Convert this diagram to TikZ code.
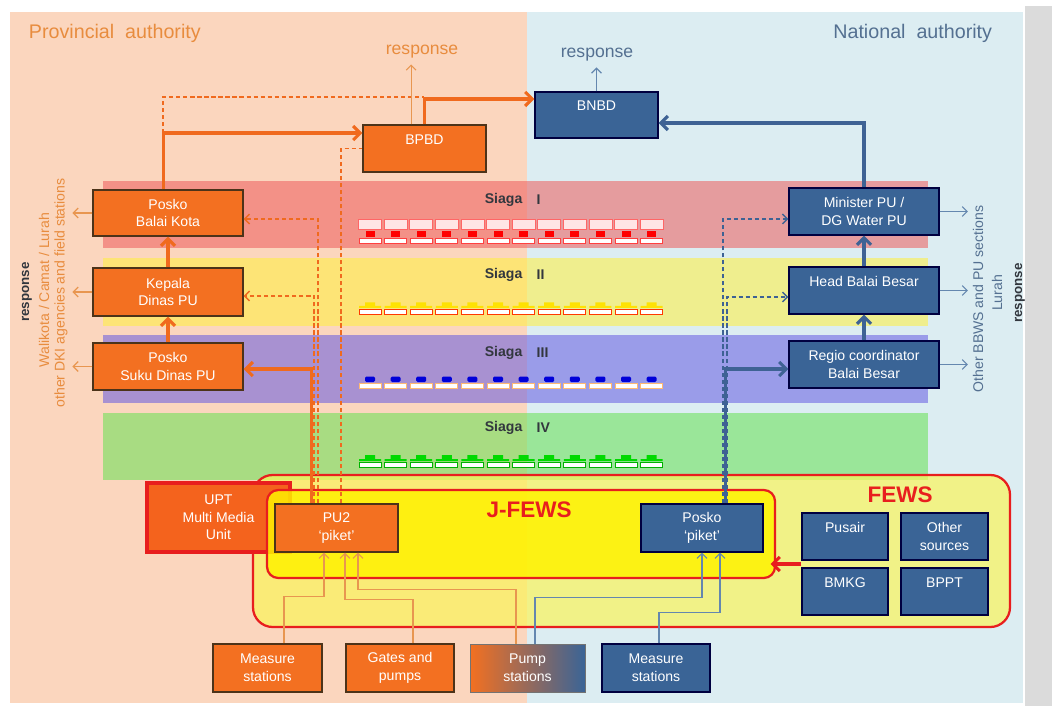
\documentclass[tikz,border=0pt]{standalone}
\usepackage{fontspec}
\setmainfont{Liberation Sans}
\usetikzlibrary{positioning,arrows,arrows.meta,shadows,calc}

\definecolor{peach}{RGB}{251,214,190}
\definecolor{skyb}{RGB}{220,237,242}
\definecolor{oran}{RGB}{243,112,33}
\definecolor{oranline}{RGB}{240,106,30}
\definecolor{oranthin}{RGB}{232,150,80}
\definecolor{orantxt}{RGB}{232,140,62}
\definecolor{blu}{RGB}{58,100,150}
\definecolor{bluline}{RGB}{62,98,148}
\definecolor{bluthin}{RGB}{100,135,175}
\definecolor{blutxt}{RGB}{84,112,145}
\definecolor{fred}{RGB}{232,30,30}
\definecolor{band1}{RGB}{238,90,90}
\definecolor{band2}{RGB}{255,240,60}
\definecolor{band3}{RGB}{100,90,226}
\definecolor{band4}{RGB}{100,225,81}
\definecolor{siagatxt}{RGB}{50,55,62}

\begin{document}
\begin{tikzpicture}[x=0.025cm,y=-0.025cm,
  box/.style 2 args={rectangle, minimum width=#1*0.025cm, minimum height=#2*0.025cm,
    text=white, align=center, inner sep=1pt, font=\fontsize{10}{12.5}\selectfont,
    drop shadow={shadow xshift=1pt,shadow yshift=-1pt,opacity=.35}},
  obox/.style={fill=oran, draw=black!60!brown, line width=0.9pt},
  bbox/.style={fill=blu, draw=blue!25!black, line width=0.9pt},
  uptext/.style={text depth=13pt},
  siaga/.style={font=\bfseries\fontsize{10}{12}\selectfont, text=siagatxt, inner sep=1pt},
  side/.style={rotate=90, font=\fontsize{10}{12}\selectfont, inner sep=3.3pt},
  othick/.style={draw=oranline, line width=2.2pt, >={Straight Barb[length=5pt,width=10pt]}},
  odash/.style={draw=oranline, line width=1pt, dash pattern=on 3pt off 2pt, >={Straight Barb[length=3.5pt,width=7pt]}},
  othin/.style={draw=oranthin, line width=0.8pt, >={Straight Barb[length=3.5pt,width=7pt]}},
  bthick/.style={draw=bluline, line width=2.2pt, >={Straight Barb[length=5pt,width=10pt]}},
  bdash/.style={draw=bluline, line width=1pt, dash pattern=on 3pt off 2pt, >={Straight Barb[length=3.5pt,width=7pt]}},
  bthin/.style={draw=bluthin, line width=0.8pt, >={Straight Barb[length=3.5pt,width=7pt]}},
]
\useasboundingbox (0,0) rectangle (1052,708);

% the two authorities
\fill[white] (0,0) rectangle (1052,708);
\fill[black!14] (1025,6) rectangle (1052,706);
\fill[peach] (10,12) rectangle (527,703);
\fill[skyb] (527,12) rectangle (1023,703);
\node[anchor=west, text=orantxt, font=\fontsize{14}{16}\selectfont] at (24,33) (provtitle) {Provincial\ \ authority};
\node[anchor=east, text=blutxt, font=\fontsize{14}{16}\selectfont] at (997,33) (nattitle) {National\ \ authority};

% alert levels
\foreach \c/\ya/\yb in {band1/181/248, band2/258/326, band3/335/403, band4/413/480}
  \fill[\c, opacity=.55] (103,\ya) rectangle (928,\yb);
\foreach \n/\y in {I/200, II/275, III/353, IV/428}{
  \node[siaga, anchor=east] at (524,\y) (siaga\n) {Siaga};
  \node[siaga, anchor=west] at (535,\y) (level\n) {\n};
}
\foreach \i in {0,...,11}{
  \pgfmathsetmacro{\xx}{370+25.6*\i}
  % gauges
  \draw[red!60, fill=red!10, line width=.3pt] (\xx-11.5,219) rectangle (\xx+11.5,229);
  \fill[red] (\xx-4.5,231.5) rectangle (\xx+4.5,237);
  \draw[red!75, fill=white, line width=.5pt] (\xx-11,238) rectangle (\xx+11,243.5);
  \fill[yellow!85!orange] (\xx-5,302.5) rectangle (\xx+5,307) (\xx-11,306) rectangle (\xx+11,308);
  \draw[red!55!orange, fill=white, line width=.5pt] (\xx-11,309) rectangle (\xx+11,314.5);
  \fill[blue!85!black, rounded corners=1pt] (\xx-5,376.5) rectangle (\xx+5,382);
  \draw[orange!55, fill=white, line width=.5pt] (\xx-11,383) rectangle (\xx+11,388);
  \fill[green!85!black] (\xx-5,455) rectangle (\xx+5,460) (\xx-11,459) rectangle (\xx+11,461);
  \draw[green!70!black, fill=white, line width=.5pt] (\xx-11,462) rectangle (\xx+11,467);
}

% warning systems
\node[draw=fred, line width=1.6pt, fill={rgb,255:red,250;green,245;blue,90}, fill opacity=.7,
  rounded corners=14pt, minimum width=757*0.025cm, minimum height=152*0.025cm] at (631.5,551) (fews) {};
\node[text=fred, font=\bfseries\fontsize{16}{18}\selectfont] at (900,495) (fewslabel) {FEWS};
\node[box={143}{69}, fill=oran!88!red, draw=fred, line width=2.5pt] at (218.5,517.5) (upt) {UPT\\Multi Media\\Unit};
\node[draw=fred, line width=1.6pt, fill=yellow, fill opacity=.85,
  rounded corners=8pt, minimum width=508*0.025cm, minimum height=88*0.025cm] at (521,534) (jfews) {};
\node[text=fred, font=\bfseries\fontsize{16}{18}\selectfont] at (529,510) (jfewslabel) {J-FEWS};

% provincial side
\node[box={123}{47}, obox, uptext] at (424.5,148.5) (bpbd) {BPBD};
\node[box={150}{46}, obox] at (168,213) (balaikota) {Posko\\Balai Kota};
\node[box={150}{48}, obox] at (168,292) (kepala) {Kepala\\Dinas PU};
\node[box={150}{47}, obox] at (168,366.5) (sukudinas) {Posko\\Suku Dinas PU};
\node[box={123}{48}, obox] at (336.5,528) (pu2) {PU2\\`piket'};

% national side
\node[box={123}{46}, bbox, uptext] at (596.5,115) (bnbd) {BNBD};
\node[box={150}{47}, bbox] at (864,211.5) (minister) {Minister PU /\\DG Water PU};
\node[box={150}{47}, bbox, uptext] at (864,290.5) (headbb) {Head Balai Besar};
\node[box={150}{47}, bbox] at (864,364.5) (regio) {Regio coordinator\\Balai Besar};
\node[box={122}{48}, bbox] at (702,528) (poskopiket) {Posko\\`piket'};
\node[box={86}{47}, bbox, uptext] at (845,536.5) (pusair) {Pusair};
\node[box={87}{47}, bbox] at (944.5,536.5) (othersrc) {Other\\sources};
\node[box={86}{47}, bbox, uptext] at (845,591.5) (bmkg) {BMKG};
\node[box={87}{47}, bbox, uptext] at (944.5,591.5) (bppt) {BPPT};

% field stations
\node[box={109}{48}, obox] at (267.5,668) (measure1) {Measure\\stations};
\node[box={108}{48}, obox] at (400,668) (gates) {Gates and\\pumps};
\node[box={115}{48}, left color=oran, right color=blu, draw=black!55] at (527.5,668) (pump) {Pump\\stations};
\node[box={108}{48}, bbox] at (656,668) (measure2) {Measure\\stations};

% response texts
\node[text=orantxt, font=\fontsize{12.5}{14}\selectfont, inner sep=4pt] at (422,52) (oresp) {response};
\node[text=blutxt, font=\fontsize{12.5}{14}\selectfont, inner sep=4pt] at (597,55) (bresp) {response};
\node[side, font=\bfseries\fontsize{9.5}{11}\selectfont, text=siagatxt] at (27,292) (lresp) {response};
\node[side, text=orantxt] at (44,290) (walikota) {Walikota / Camat / Lurah};
\node[side, text=orantxt] at (61,293) (dki) {other DKI agencies and field stations};
\node[side, text=blutxt] at (978,299) (bbws) {Other BBWS and PU sections};
\node[side, text=blutxt] at (997,293) (lurah) {Lurah};
\node[side, font=\bfseries\fontsize{9.5}{11}\selectfont, text=siagatxt] at (1020,293) (rresp) {response};

% provincial chain
\coordinate (bkturn) at (163,133);
\coordinate (topjoin) at (424,97);
\draw[odash] (bkturn) |- (topjoin);
\draw[othick,->] ([xshift=-3.5pt]balaikota.north) |- ([yshift=11pt]bpbd.west);
\draw[othick,->] (bpbd.north) |- ([yshift=11.4pt]bnbd.west);
\draw[othin,->] ([xshift=-9.5pt]bpbd.north) -- ([xshift=-9.5pt]bpbd.north |- oresp.south);
\draw[othick,->] (sukudinas.north) -- (kepala.south);
\draw[othick,->] (kepala.north) -- (balaikota.south);
\draw[odash] ([xshift=3.2pt]pu2.north) |- (bpbd.west);
\draw[odash,->] ([xshift=-13.2pt]pu2.north) |- ([yshift=-4.3pt]balaikota.east);
\draw[odash,->] ([xshift=-16pt]pu2.north) |- ([yshift=-2.8pt]kepala.east);
\draw[othick,->] ([xshift=-18.1pt]pu2.north) |- ([yshift=-1.8pt]sukudinas.east);
\foreach \b in {balaikota,kepala,sukudinas}
  \draw[othin,->] (\b.west) -- (\b.west -| dki.south);

% national chain
\draw[bthin,->] (bnbd.north) -- (bnbd.north |- bresp.south);
\draw[bthick,->] (minister.north) |- ([yshift=-5.7pt]bnbd.east);
\draw[bthick,->] (regio.north) -- (headbb.south);
\draw[bthick,->] (headbb.north) -- (minister.south);
\draw[bdash,->] ([xshift=14.9pt]poskopiket.north) |- ([yshift=-5.3pt]minister.west);
\draw[bdash,->] ([xshift=17.8pt]poskopiket.north) |- ([yshift=-4.6pt]headbb.west);
\draw[bthick,->] ([xshift=16.4pt]poskopiket.north) |- ([yshift=-3.2pt]regio.west);
\foreach \b in {minister,headbb,regio}
  \draw[bthin,->] (\b.east) -- (\b.east -| bbws.north);

% FEWS feeds J-FEWS
\coordinate (fewsin) at ($(pusair.south west)!.5!(bmkg.north west)$);
\draw[draw=fred, line width=2.2pt, >={Straight Barb[length=5pt,width=10pt]}, ->, shorten >=-4pt]
  (fewsin) -- (fewsin -| jfews.east);

% station inputs
\draw[othin,->] ([xshift=11.7pt]measure1.north) -- ++(0,-47) -| ([xshift=-8.9pt]pu2.south);
\draw[othin,->] ([xshift=9.2pt]gates.north) -- ++(0,-44) -| ([xshift=6pt]pu2.south);
\draw[othin,->] ([xshift=-8.2pt]pump.north) -- ++(0,-54) -| ([xshift=15.3pt]pu2.south);
\draw[bthin,->] ([xshift=5.3pt]pump.north) -- ++(0,-46) -| (poskopiket.south);
\draw[bthin,->] ([xshift=2.1pt]measure2.north) -- ++(0,-31) -| ([xshift=12.8pt]poskopiket.south);
\end{tikzpicture}
\end{document}
